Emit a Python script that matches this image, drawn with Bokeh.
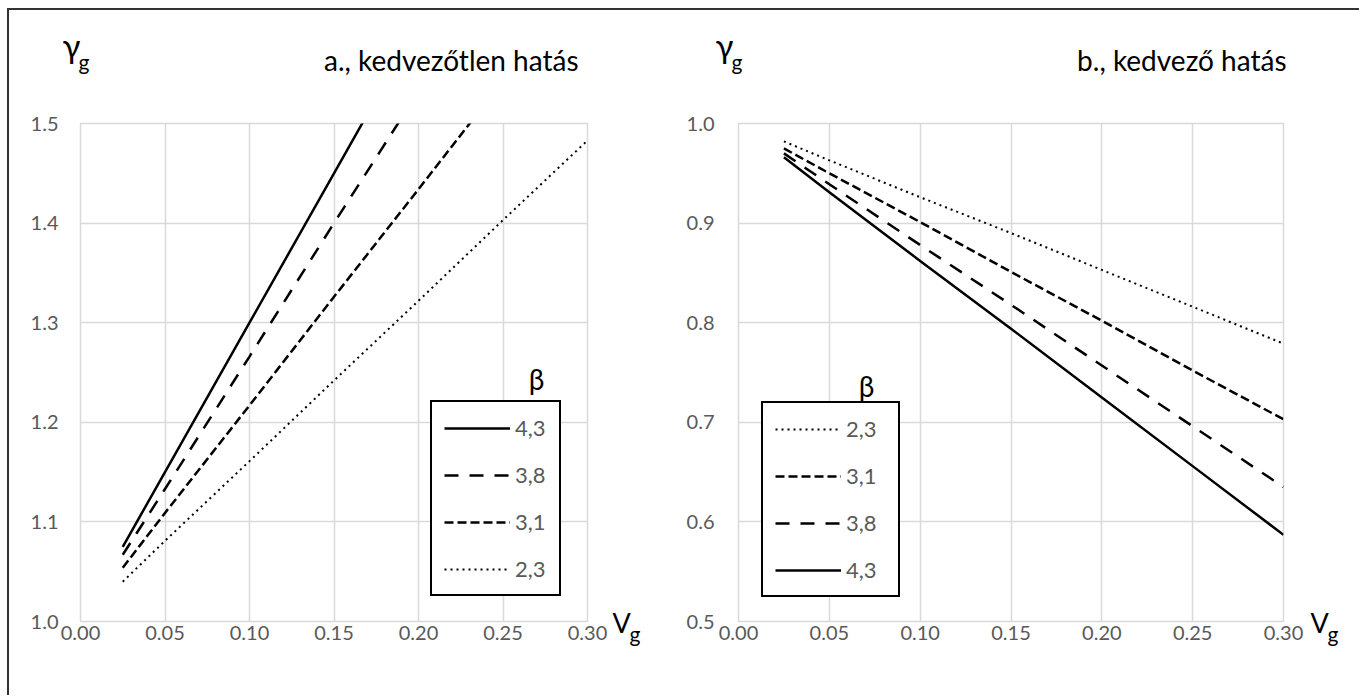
from bokeh.plotting import figure
from bokeh.models import Range1d, FixedTicker, CustomJSTickFormatter, Legend, LegendItem, Label
from bokeh.layouts import row
from bokeh.embed import file_html
from bokeh.resources import INLINE

# ---------------- data ----------------
v_values = [0.025, 0.05, 0.10, 0.15, 0.20, 0.25, 0.30]

# a., kedvezőtlen hatás
a_beta_43 = [1.075, 1.150, 1.300, 1.450, 1.600, 1.750, 1.900]
a_beta_38 = [1.067, 1.133, 1.266, 1.400, 1.532, 1.665, 1.798]
a_beta_31 = [1.054, 1.109, 1.217, 1.326, 1.434, 1.543, 1.651]
a_beta_23 = [1.040, 1.081, 1.161, 1.242, 1.322, 1.403, 1.483]

# b., kedvező hatás
b_beta_23 = [0.982, 0.963, 0.926, 0.890, 0.853, 0.816, 0.779]
b_beta_31 = [0.975, 0.950, 0.901, 0.851, 0.802, 0.752, 0.703]
b_beta_38 = [0.970, 0.939, 0.878, 0.818, 0.757, 0.696, 0.635]
b_beta_43 = [0.966, 0.931, 0.862, 0.794, 0.725, 0.656, 0.587]

x_ticks = [0.0, 0.05, 0.10, 0.15, 0.20, 0.25, 0.30]
a_y_ticks = [1.0, 1.1, 1.2, 1.3, 1.4, 1.5]
b_y_ticks = [0.5, 0.6, 0.7, 0.8, 0.9, 1.0]

a_title = "a., kedvezőtlen hatás"
b_title = "b., kedvező hatás"
a_legend_order = ["4,3", "3,8", "3,1", "2,3"]
b_legend_order = ["2,3", "3,1", "3,8", "4,3"]

FONT = "Lato"
GRID = "#d9d9d9"
TICK_COLOR = "#595959"

styles = {
    "4,3": dict(line_width=2.5, line_dash="solid"),
    "3,8": dict(line_width=2.5, line_dash="14 11"),
    "3,1": dict(line_width=2.5, line_dash="9 4"),
    "2,3": dict(line_width=2.0, line_dash="2 4"),
}


def make_fig(width, mb_left, mb_right, y_range, y_ticks, y_standoff):
    p = figure(width=width, height=685, x_range=Range1d(0, 0.30), y_range=Range1d(*y_range),
               output_backend="svg", toolbar_location=None,
               min_border_left=mb_left, min_border_right=mb_right,
               min_border_top=113, min_border_bottom=74)
    p.outline_line_color = GRID
    p.outline_line_width = 1.5
    p.background_fill_color = "white"
    p.border_fill_color = "white"
    for ax, ticks, fmt, standoff in ((p.xaxis[0], x_ticks, "toFixed(2)", 4),
                                     (p.yaxis[0], y_ticks, "toFixed(1)", y_standoff)):
        ax.ticker = FixedTicker(ticks=ticks)
        ax.formatter = CustomJSTickFormatter(code="return tick.%s;" % fmt)
        ax.axis_line_color = None
        ax.major_tick_line_color = None
        ax.minor_tick_line_color = None
        ax.major_tick_out = 0
        ax.major_tick_in = 0
        ax.major_label_standoff = standoff
        ax.major_label_text_font = FONT
        ax.major_label_text_font_size = "20px"
        ax.major_label_text_color = TICK_COLOR
    p.xgrid.ticker = FixedTicker(ticks=x_ticks)
    p.ygrid.ticker = FixedTicker(ticks=y_ticks)
    p.grid.grid_line_color = GRID
    p.grid.grid_line_width = 1.5
    return p


def clabel(p, side, x, y, text, size, align="left"):
    # placed in a side panel so that it is not clipped to the frame
    p.add_layout(Label(x=x, y=y, x_units="canvas", y_units="canvas", text=text,
                       text_font=FONT, text_font_size=size, text_color="black",
                       text_align=align, text_baseline="alphabetic"), side)


def add_labels(p, gx, vx, title, title_x, beta_xy):
    clabel(p, "above", gx, 34, "γ", "33px")
    clabel(p, "below", gx + 16, 51, "g", "21px")
    clabel(p, "right", vx, 612, "V", "27px")
    clabel(p, "right", vx + 17, 623, "g", "21px")
    clabel(p, "above", title_x, 49, title, "28px", align="right")
    p.add_layout(Label(x=beta_xy[0], y=beta_xy[1], x_units="screen", y_units="screen", text="β",
                       text_font=FONT, text_font_size="28px", text_color="black",
                       text_align="center", text_baseline="middle"))


def add_legend(p, items, loc, label_width):
    leg = Legend(items=items, location=loc, margin=0,
                 border_line_color="black", border_line_width=2, border_line_alpha=1,
                 background_fill_color="white", background_fill_alpha=1,
                 label_text_font=FONT, label_text_font_size="22px", label_text_color=TICK_COLOR,
                 glyph_width=66, glyph_height=20, label_height=20, label_standoff=5,
                 label_width=label_width, spacing=20, padding=12)
    p.add_layout(leg, "center")


# ---------- panel a ----------
pa = make_fig(651, 71, 73, (1.0, 1.5), a_y_ticks, 22)
a_series = {"4,3": a_beta_43, "3,8": a_beta_38, "3,1": a_beta_31, "2,3": a_beta_23}
a_items = []
for lab in a_legend_order:
    r = pa.line(v_values, a_series[lab], line_color="black", **styles[lab])
    a_items.append(LegendItem(label=lab, renderers=[r]))
add_legend(pa, a_items, (350, 25), 32)
add_labels(pa, 53, 603, a_title, 569, (456, 243))

# ---------- panel b ----------
pb = make_fig(700, 78, 77, (0.5, 1.0), b_y_ticks, 24)
b_series = {"2,3": b_beta_23, "3,1": b_beta_31, "3,8": b_beta_38, "4,3": b_beta_43}
b_items = []
for lab in b_legend_order:
    r = pb.line(v_values, b_series[lab], line_color="black", **styles[lab])
    b_items.append(LegendItem(label=lab, renderers=[r]))
add_legend(pb, b_items, (23, 24), 40)
add_labels(pb, 55, 650, b_title, 626, (128, 236))

layout = row(pa, pb, margin=(8, 0, 0, 7),
             styles={"border-left": "2px solid #333333", "border-top": "2px solid #333333"})

open("out.html", "w").write(file_html(layout, INLINE))
